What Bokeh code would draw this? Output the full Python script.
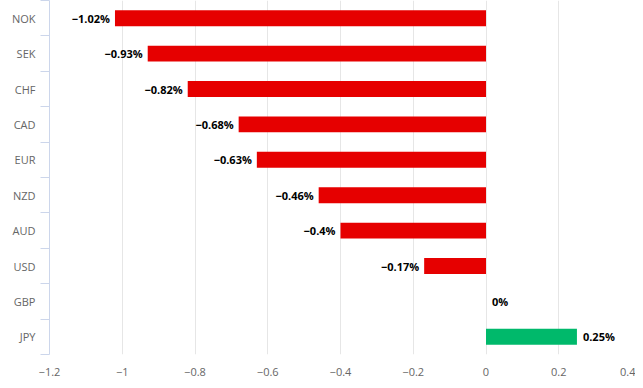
from bokeh.plotting import figure
from bokeh.models import ColumnDataSource, FixedTicker, Range1d
from bokeh.core.properties import value
from bokeh.embed import file_html
from bokeh.resources import INLINE

categories = ["NOK", "SEK", "CHF", "CAD", "EUR", "NZD", "AUD", "USD", "GBP", "JPY"]
changes = [-1.02, -0.93, -0.82, -0.68, -0.63, -0.46, -0.40, -0.17, 0.0, 0.25]
labels = ["\u22121.02%", "\u22120.93%", "\u22120.82%", "\u22120.68%", "\u22120.63%",
          "\u22120.46%", "\u22120.4%", "\u22120.17%", "0%", "0.25%"]
x_ticks = [-1.2, -1.0, -0.8, -0.6, -0.4, -0.2, 0.0, 0.2, 0.4]
x_tick_labels = ["\u22121.2", "\u22121", "\u22120.8", "\u22120.6", "\u22120.4", "\u22120.2", "0", "0.2", "0.4"]

RED = "#e60000"
GREEN = "#00b96b"

n = len(categories)
ypos = [n - 0.5 - i for i in range(n)]
colors = [GREEN if v > 0 else RED for v in changes]

src = ColumnDataSource(dict(y=ypos, right=changes, color=colors))
neg = [i for i, v in enumerate(changes) if v < 0]
pos = [i for i, v in enumerate(changes) if v >= 0]
src_neg = ColumnDataSource(dict(x=[changes[i] for i in neg], y=[ypos[i] for i in neg], t=[labels[i] for i in neg]))
src_pos = ColumnDataSource(dict(x=[changes[i] for i in pos], y=[ypos[i] for i in pos], t=[labels[i] for i in pos]))

p = figure(width=635, height=380, output_backend="svg", toolbar_location=None,
           x_range=Range1d(-1.2, 0.4), y_range=Range1d(0, n),
           min_border_left=49, min_border_right=4, min_border_top=0, min_border_bottom=26)
p.outline_line_color = None
p.background_fill_color = "white"
p.border_fill_color = "white"

p.hbar(y="y", left=0, right="right", height=0.45, color="color", source=src, line_color=None)

p.text(x="x", y="y", text="t", source=src_neg, x_offset=-5, text_align="right", text_baseline="middle",
       text_font=value("Open Sans"), text_font_size="11px", text_font_style="bold", text_color="#000000")
p.text(x="x", y="y", text="t", source=src_pos, x_offset=6, text_align="left", text_baseline="middle",
       text_font=value("Open Sans"), text_font_size="11px", text_font_style="bold", text_color="#000000")

# x axis
p.xaxis.ticker = FixedTicker(ticks=x_ticks)
p.xaxis.major_label_overrides = {t: l for t, l in zip(x_ticks, x_tick_labels)}
p.xaxis.axis_line_color = None
p.xaxis.major_tick_line_color = None
p.xaxis.minor_tick_line_color = None
p.xaxis.major_label_text_color = "#666666"
p.xaxis.major_label_text_font = "Open Sans"
p.xaxis.major_label_text_font_size = "11px"
p.xaxis.major_label_standoff = 7

# y axis
p.yaxis.ticker = FixedTicker(ticks=ypos, minor_ticks=[float(i) for i in range(n + 1)])
p.yaxis.major_label_overrides = {y: c for y, c in zip(ypos, categories)}
p.yaxis.axis_line_color = "#ccd6eb"
p.yaxis.major_tick_line_color = None
p.yaxis.minor_tick_line_color = "#ccd6eb"
p.yaxis.minor_tick_out = 9
p.yaxis.minor_tick_in = 0
p.yaxis.major_label_text_color = "#666666"
p.yaxis.major_label_text_font = "Open Sans"
p.yaxis.major_label_text_font_size = "11px"
p.yaxis.major_label_standoff = 5

p.xgrid.grid_line_color = "#e6e6e6"
p.ygrid.grid_line_color = None

open("out.html", "w").write(file_html(p, INLINE))
